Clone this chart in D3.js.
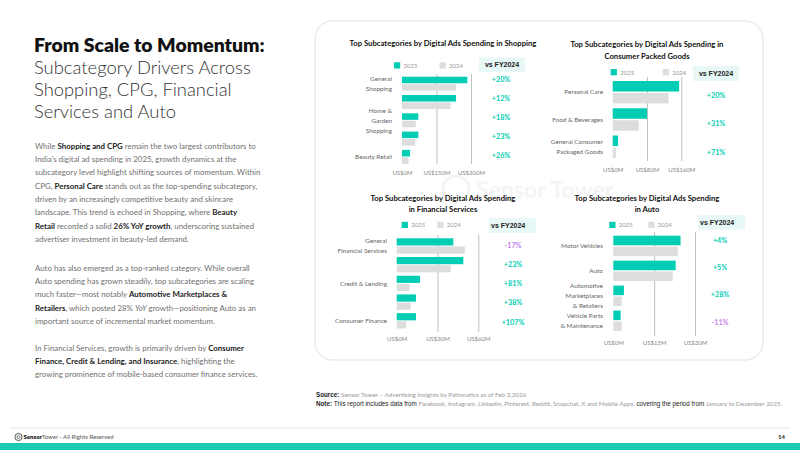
<!DOCTYPE html>
<html>
<head>
<meta charset="utf-8">
<script src="https://cdn.jsdelivr.net/npm/d3@7"></script>
<style>
  body { margin: 0; background: #fff; }
  svg { display: block; font-family: Lato, "Noto Sans", sans-serif; }
</style>
</head>
<body>
<div id="chart"></div>
<script>
/* Data */
const years = ["2025", "2024"];

const shopLabels = [["General", "Shopping"], [], ["Home &", "Garden", "Shopping"], [], ["Beauty Retail"]];
const shop2025 = [284, 235, 71, 71, 35];
const shop2024 = [235, 211, 60, 58, 28];
const shopGrowth = ["+20%", "+12%", "+18%", "+23%", "+26%"];
const shopTicks = [0, 150, 300];

const cpgLabels = [["Personal Care"], ["Food & Beverages"], ["General Consumer", "Packaged Goods"]];
const cpg2025 = [155, 80, 12.5];
const cpg2024 = [130, 61, 7.3];
const cpgGrowth = ["+20%", "+31%", "+71%"];
const cpgTicks = [0, 80, 160];

const finLabels = [["General", "Financial Services"], [], ["Credit & Lending"], [], ["Consumer Finance"]];
const fin2025 = [41.6, 49, 17.1, 14.2, 14.2];
const fin2024 = [50.1, 39.8, 9.4, 10.3, 6.9];
const finGrowth = ["-17%", "+23%", "+81%", "+38%", "+107%"];
const finTicks = [0, 30, 60];

const autoLabels = [["Motor Vehicles"], ["Auto"], ["Automotive", "Marketplaces", "& Retailers"], ["Vehicle Parts", "& Maintenance"]];
const auto2025 = [24.7, 22.9, 3.9, 2.7];
const auto2024 = [23.7, 21.8, 3.05, 3.05];
const autoGrowth = ["+4%", "+5%", "+28%", "-11%"];
const autoTicks = [0, 15, 30];

/* Slide text */
const headline = "From Scale to Momentum:";
const subtitle = ["Subcategory Drivers Across", "Shopping, CPG, Financial", "Services and Auto"];
const para1 = [
  "While **Shopping and CPG** remain the two largest contributors to",
  "India’s digital ad spending in 2025, growth dynamics at the",
  "subcategory level highlight shifting sources of momentum. Within",
  "CPG, **Personal Care** stands out as the top-spending subcategory,",
  "driven by an increasingly competitive beauty and skincare",
  "landscape. This trend is echoed in Shopping, where **Beauty**",
  "**Retail** recorded a solid **26% YoY growth**, underscoring sustained",
  "advertiser investment in beauty-led demand."
];
const para2 = [
  "Auto has also emerged as a top-ranked category. While overall",
  "Auto spending has grown steadily, top subcategories are scaling",
  "much faster—most notably **Automotive Marketplaces &**",
  "**Retailers**, which posted 28% _YoY_ growth—positioning Auto as an",
  "important source of incremental market momentum."
];
const para3 = [
  "In Financial Services, growth is primarily driven by **Consumer**",
  "**Finance, Credit & Lending, and Insurance**, highlighting the",
  "growing prominence of mobile-based consumer finance services."
];

const teal = "#00cdb3",
      grey = "#dddddd",
      purple = "#c47ff0";

const width = 800, height = 450;

let svg = d3.select("#chart")
            .append("svg")
            .attr("width", width)
            .attr("height", height)
            .attr("viewBox", [0, 0, width, height]);

/* helper: font size that makes a (rich) line reach a target width */
function fitSize(draw, target) {
  const t = svg.append("text").attr("font-size", 100);
  draw(t);
  const w = t.node().getComputedTextLength();
  t.remove();
  return 100 * target / w;
}

function richLine(t, str) {
  str.split(/(\*\*[^*]+\*\*|_[^_]+_)/).filter(s => s).forEach(s => {
    if (s.startsWith("**")) t.append("tspan").attr("font-weight", 700).attr("fill", "#222").text(s.slice(2, -2));
    else if (s.startsWith("_")) t.append("tspan").attr("font-style", "italic").text(s.slice(1, -1));
    else t.append("tspan").text(s);
  });
}

/* card and watermark */
svg.append("rect")
   .attr("x", 315).attr("y", 21).attr("width", 448).attr("height", 339)
   .attr("rx", 18)
   .attr("fill", "#fff").attr("stroke", "#ebebeb").attr("stroke-width", 1.5);

const wm = svg.append("g").attr("opacity", 0.04);
wm.append("circle").attr("cx", 456).attr("cy", 189).attr("r", 13)
  .attr("fill", "none").attr("stroke", "#000").attr("stroke-width", 3);
wm.append("text").attr("x", 476).attr("y", 198).attr("font-size", 23)
  .attr("font-weight", 700).text("Sensor Tower");

/* left column */
const hSize = fitSize(t => t.attr("font-weight", 800).text(headline), 231);
svg.append("text")
   .attr("x", 34).attr("y", 52)
   .attr("font-size", hSize).attr("font-weight", 800).attr("fill", "#111")
   .text(headline);

const sSize = fitSize(t => t.attr("font-weight", 300).text(subtitle[0]), 217);
subtitle.forEach((s, i) => {
  svg.append("text")
     .attr("x", 34).attr("y", 73.5 + i * 22)
     .attr("font-size", sSize).attr("font-weight", 300).attr("fill", "#333")
     .text(s);
});

const bSize = fitSize(t => richLine(t, para1[0]), 221);
function paragraph(lines, y0) {
  lines.forEach((l, i) => {
    const t = svg.append("text")
                 .attr("x", 35).attr("y", y0 + i * 13.35)
                 .attr("font-size", bSize).attr("fill", "#707070");
    richLine(t, l);
  });
}
paragraph(para1, 148.7);
paragraph(para2, 270.7);
paragraph(para3, 350.7);

/* bar panels */
const panels = [
  {title: ["Top Subcategories by Digital Ads Spending in Shopping"], titleX: 443, titleY: 46,
   labels: shopLabels, v25: shop2025, v24: shop2024, growth: shopGrowth, ticks: shopTicks,
   x0: 402, x1: 471, yRange: [76.7, 163.9], pad: 0.235, gridTop: 74, gridBottom: 164, tickY: 171,
   labelX: 392, pctX: 501, pctRange: [79, 155], legY: 65.5, leg25X: 394, leg24X: 439.5,
   box: [479, 57.5, 46, 14.5], boxAnchor: "middle"},
  {title: ["Top Subcategories by Digital Ads Spending in", "Consumer Packed Goods"], titleX: 647, titleY: 47,
   labels: cpgLabels, v25: cpg2025, v24: cpg2024, growth: cpgGrowth, ticks: cpgTicks,
   x0: 612.7, x1: 681.3, yRange: [81, 158], pad: 0.176, gridTop: 77, gridBottom: 161, tickY: 168,
   labelX: 603, pctX: 716, pctRange: [95, 152], legY: 72.3, leg25X: 610.7, leg24X: 662.7,
   box: [693, 66, 46, 15], boxAnchor: "middle"},
  {title: ["Top Subcategories by Digital Ads Spending", "in Financial Services"], titleX: 443, titleY: 200.5,
   labels: finLabels, v25: fin2025, v24: fin2024, growth: finGrowth, ticks: finTicks,
   x0: 396.7, x1: 478.3, yRange: [238.3, 328.5], pad: 0.18, gridTop: 235, gridBottom: 332, tickY: 337,
   labelX: 387, pctX: 513, pctRange: [245, 322], legY: 225, leg25X: 401.7, leg24X: 437.3,
   box: [489, 218, 47, 15], boxAnchor: "start"},
  {title: ["Top Subcategories by Digital Ads Spending", "in Auto"], titleX: 647, titleY: 200.5,
   labels: autoLabels, v25: auto2025, v24: auto2024, growth: autoGrowth, ticks: autoTicks,
   x0: 613.3, x1: 695, yRange: [235.7, 331], pad: 0.18, gridTop: 232, gridBottom: 336, tickY: 341,
   labelX: 603, pctX: 720, pctRange: [240, 322], legY: 225, leg25X: 609.3, leg24X: 648.3,
   box: [698, 215, 47, 14.5], boxAnchor: "start"}
];

const tSize = fitSize(t => t.attr("font-weight", 700).text(panels[0].title[0]), 187);

function drawPanel(p) {
  const g = svg.append("g");

  let x = d3.scaleLinear()
            .domain([0, d3.max(p.ticks)])
            .range([p.x0, p.x1]);

  let y = d3.scaleBand()
            .domain(d3.range(p.labels.length))
            .range(p.yRange)
            .paddingInner(p.pad)
            .paddingOuter(0);

  let yy = d3.scaleBand()
             .domain(years)
             .range([0, y.bandwidth()])
             .paddingInner(0.12);

  let yPct = d3.scalePoint()
               .domain(d3.range(p.growth.length))
               .range(p.pctRange);

  /* title */
  p.title.forEach((t, i) => {
    g.append("text")
     .attr("x", p.titleX).attr("y", p.titleY + i * 11.8)
     .attr("text-anchor", "middle")
     .attr("font-size", tSize).attr("font-weight", 700).attr("fill", "#111")
     .text(t);
  });

  /* legend */
  [[p.leg25X, teal, "2025"], [p.leg24X, grey, "2024"]].forEach(([lx, c, txt]) => {
    g.append("rect").attr("x", lx).attr("y", p.legY - 3.2).attr("width", 6.2).attr("height", 6.2).attr("fill", c);
    g.append("text").attr("x", lx + 9.5).attr("y", p.legY + 2.2)
     .attr("font-size", 6).attr("fill", "#999").text(txt);
  });

  /* vs FY2024 box */
  const [bx, by, bw, bh] = p.box;
  g.append("rect").attr("x", bx).attr("y", by).attr("width", bw).attr("height", bh).attr("fill", "#e7f8f6");
  g.append("text")
   .attr("x", p.boxAnchor === "middle" ? bx + bw / 2 : bx + 2)
   .attr("y", by + bh / 2 + 2.5)
   .attr("text-anchor", p.boxAnchor)
   .attr("font-size", 7).attr("font-weight", 700).attr("fill", "#222")
   .attr("font-family", "'Liberation Sans', Arial, sans-serif")
   .text("vs FY2024");

  /* grid + ticks */
  const xAxis = gg => gg
        .attr("transform", `translate(0, ${p.gridBottom})`)
        .call(d3.axisBottom(x)
                .tickValues(p.ticks)
                .tickFormat(d => `US$${d}M`)
                .tickSize(-(p.gridBottom - p.gridTop))
                .tickPadding(p.tickY - p.gridBottom))
        .call(gg => gg.select(".domain").remove())
        .call(gg => gg.selectAll(".tick line").attr("stroke", "#b8b8b8").attr("stroke-width", 0.9)
                      .filter(d => d === 0).remove())
        .call(gg => gg.selectAll(".tick text").attr("fill", "#888").attr("font-size", 6)
                      .attr("font-family", "Lato, sans-serif"));

  g.append("g").call(xAxis);

  /* bars */
  const rows = p.labels.map((l, i) => ({i, vals: [p.v25[i], p.v24[i]]}));
  let bar = g.selectAll(".bar")
             .data(rows.flatMap(r => years.map((yr, k) => ({i: r.i, year: yr, v: r.vals[k]}))))
             .join("rect")
             .attr("class", "bar")
             .attr("x", x(0))
             .attr("y", d => y(d.i) + yy(d.year))
             .attr("width", d => x(d.v) - x(0))
             .attr("height", yy.bandwidth())
             .attr("fill", d => d.year === "2025" ? teal : grey);

  /* category labels */
  rows.forEach(r => {
    const lines = p.labels[r.i];
    if (!lines.length) return;
    const cy = y(r.i) + y.bandwidth() / 2;
    const t = g.append("text")
               .attr("text-anchor", "end")
               .attr("font-size", 6.4).attr("fill", "#666");
    lines.forEach((ln, k) => {
      t.append("tspan")
       .attr("x", p.labelX)
       .attr("y", cy + (k - (lines.length - 1) / 2) * 10 + 2.2)
       .text(ln);
    });
  });

  /* growth labels */
  g.selectAll(".pct")
   .data(p.growth)
   .join("text")
   .attr("class", "pct")
   .attr("x", p.pctX)
   .attr("y", (d, i) => yPct(i) + 2.5)
   .attr("text-anchor", "middle")
   .attr("font-size", 7.2).attr("font-weight", 700)
   .attr("fill", d => d.startsWith("-") ? purple : teal)
   .text(d => d);
}

panels.forEach(drawPanel);

/* source and note */
const srcLine = svg.append("text").attr("x", 316).attr("y", 397).attr("fill", "#999");
const noteLine = svg.append("text").attr("x", 316).attr("y", 406).attr("fill", "#999");

function noteContent(t) {
  t.append("tspan").attr("font-weight", 700).attr("fill", "#222").attr("font-family", "'Liberation Sans', Arial, sans-serif").text("Note:");
  t.append("tspan").attr("fill", "#222").attr("font-family", "'Liberation Sans', Arial, sans-serif").text(" This report includes data from ");
  t.append("tspan").text("Facebook, Instagram, LinkedIn, Pinterest, Reddit, Snapchat, X and Mobile Apps,");
  t.append("tspan").attr("fill", "#222").attr("font-family", "'Liberation Sans', Arial, sans-serif").text(" covering the period from ");
  t.append("tspan").text(" January to December 2025.");
}
const nSize = fitSize(noteContent, 467);
noteLine.attr("font-size", nSize);
noteContent(noteLine);

srcLine.attr("font-size", nSize);
srcLine.append("tspan").attr("font-weight", 700).attr("fill", "#222").attr("font-family", "'Liberation Sans', Arial, sans-serif").text("Source:");
srcLine.append("tspan").text(" Sensor Tower – Advertising Insights by Pathmatics as of Feb 3,2026");

/* footer */
svg.append("line")
   .attr("x1", 10).attr("x2", 790).attr("y1", 428).attr("y2", 428)
   .attr("stroke", "#e6e6e6").attr("stroke-width", 1);

svg.append("rect")
   .attr("x", 0).attr("y", 443).attr("width", width).attr("height", 7)
   .attr("fill", "#1ccbb6");

svg.append("circle").attr("cx", 18.5).attr("cy", 437).attr("r", 3.6)
   .attr("fill", "none").attr("stroke", "#333").attr("stroke-width", 0.8);
svg.append("circle").attr("cx", 18.5).attr("cy", 437).attr("r", 1.6)
   .attr("fill", "none").attr("stroke", "#333").attr("stroke-width", 0.6);

const foot = svg.append("text").attr("x", 23.5).attr("y", 439.3).attr("font-size", 6).attr("fill", "#444");
foot.append("tspan").attr("font-weight", 800).attr("fill", "#222").text("Sensor");
foot.append("tspan").attr("fill", "#555").text("Tower");
foot.append("tspan").attr("fill", "#555").text(" - All Rights Reserved");

svg.append("text")
   .attr("x", 785).attr("y", 439.3)
   .attr("text-anchor", "end")
   .attr("font-size", 6).attr("font-weight", 700).attr("fill", "#222")
   .text("14");
</script>
</body>
</html>
